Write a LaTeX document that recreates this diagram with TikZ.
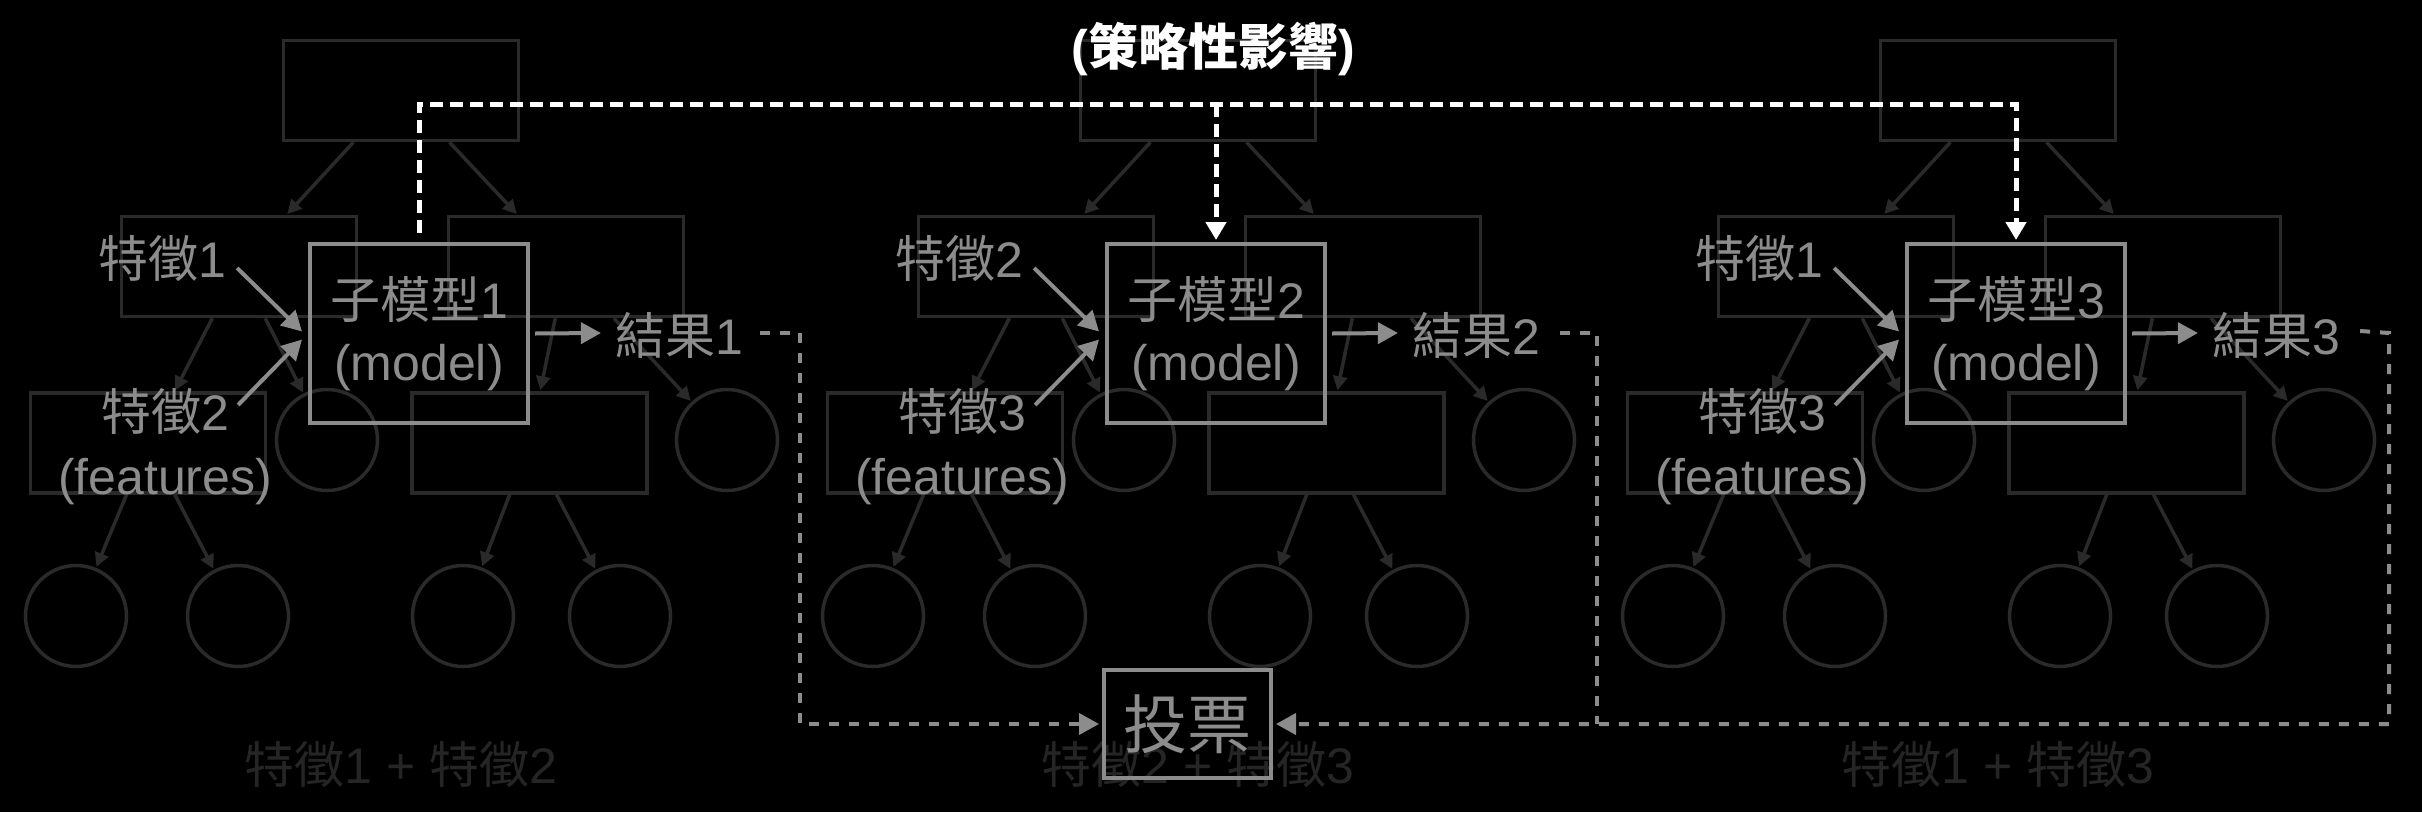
\documentclass[tikz,border=0pt]{standalone}
\usepackage{fontspec}
\setmainfont{Liberation Sans}
\newfontfamily\cjkfont{Noto Sans CJK TC}
\newcommand\zh[1]{{\cjkfont #1}}
\usetikzlibrary{arrows.meta,calc}
\definecolor{fg}{HTML}{8C8C8C}
\definecolor{bgline}{HTML}{2A2A2A}
\definecolor{bgtext}{HTML}{252525}
\begin{document}
\begin{tikzpicture}[x=1pt,y=-1pt,
  bgrect/.style={draw=bgline,line width=3.5pt,minimum width=235pt,minimum height=100pt,inner sep=0pt},
  bgcirc/.style={draw=bgline,line width=3.5pt,circle,minimum size=101pt,inner sep=0pt},
  bgarrow/.style={draw=bgline,line width=3.5pt,-{Triangle[length=14pt,width=14pt]},shorten >=1pt},
  bglabel/.style={text=bgtext,font=\fontsize{50}{60}\selectfont,inner sep=0pt},
  txt/.style={text=fg,font=\fontsize{50}{60}\selectfont,inner sep=0pt},
  modelbox/.style={draw=fg,line width=4pt,minimum width=218pt,minimum height=179pt,text=fg,align=center,font=\fontsize{50}{62}\selectfont,inner sep=0pt},
  votebox/.style={draw=fg,line width=4pt,minimum width=167pt,minimum height=108pt,text=fg,font=\fontsize{64}{70}\selectfont,inner sep=0pt},
  fgarrow/.style={draw=fg,line width=4pt,-{Triangle[length=20pt,width=21pt]}},
  gdash/.style={draw=fg,line width=4pt,dash pattern=on 10pt off 10pt},
  wdash/.style={draw=white,line width=5pt,dash pattern=on 13pt off 7pt},
  ghead/.style={-{Triangle[length=20pt,width=21pt]},shorten >=3pt},
  whead/.style={-{Triangle[length=18pt,width=20pt]},shorten >=2pt},
]
\fill[black] (0,0) rectangle (2422,812);
\useasboundingbox (0,0) rectangle (2422,812);

\foreach \i/\dx/\fa/\fb/\cx in {1/0/1/2/800, 2/797/2/3/800, 3/1597/1/3/792}{
  \begin{scope}[shift={(\dx,0)}]
    % background decision tree
    \node[bgrect] (tt\i) at (401,90.5) {};
    \node[bgrect] (tl\i) at (239,266.5) {};
    \node[bgrect] (tr\i) at (566,266.5) {};
    \node[bgrect] (tll\i) at (148,443) {};
    \node[bgcirc] (tlc\i) at (327,440) {};
    \node[bgrect] (trl\i) at (529.5,443) {};
    \node[bgcirc] (trc\i) at (727,440) {};
    \node[bgcirc] (ca\i) at (76,616) {};
    \node[bgcirc] (cb\i) at (238,616) {};
    \node[bgcirc] (cc\i) at (463,616) {};
    \node[bgcirc] (cd\i) at (620,616) {};
    \draw[bgarrow] (tt\i) -- (tl\i);
    \draw[bgarrow] (tt\i) -- (tr\i);
    \draw[bgarrow] (tl\i) -- (tll\i);
    \draw[bgarrow] (tl\i) -- (tlc\i);
    \draw[bgarrow] (tr\i) -- (trl\i);
    \draw[bgarrow] (tr\i) -- (trc\i);
    \draw[bgarrow] (tll\i) -- (ca\i);
    \draw[bgarrow] (tll\i) -- (cb\i);
    \draw[bgarrow] (trl\i) -- (cc\i);
    \draw[bgarrow] (trl\i) -- (cd\i);
    \node[bglabel] (bl\i) at (401,765) {\zh{特徵}\fa\ + \zh{特徵}\fb};
    % foreground
    \node[modelbox] (m\i) at (419,333.5) {\zh{子模型}\i\\(model)};
    \node[txt] (fa\i) at (162,259) {\zh{特徵}\fa};
    \node[txt] (fb\i) at (165,412) {\zh{特徵}\fb};
    \node[txt] (fe\i) at (165,482) {(features)};
    \node[txt] (res\i) at (679,335) {\zh{結果}\i};
    \coordinate (c\i) at (\cx,333);
    \draw[fgarrow] ($(fa\i.east)+(11,9)$) -- ($(m\i.west)+(-6,-2)$);
    \draw[fgarrow] ($(fb\i.east)+(9,-7)$) -- ($(m\i.west)+(-6,6)$);
    \draw[fgarrow] ($(m\i.east)+(5,0)$) -- ($(res\i.west)+(-14,-2)$);
  \end{scope}
}

\node[votebox] (vote) at (1187.5,724) {\zh{投票}};

\draw[gdash,ghead] ($(res1.east)+(17,-2)$) -- (c1) |- (vote.west);
\draw[gdash] ($(res2.east)+(20,-2)$) -- (c2) -- (c2 |- vote.west);
\draw[gdash,ghead] ($(res3.east)+(20,-4)$) -- (c3) |- (vote.east);

\node[text=white,font=\bfseries\fontsize{50}{60}\selectfont,inner sep=0pt] (title) at (1213,49) {(\zh{策略性影響})};

\coordinate (topy) at (0,104);
\draw[wdash,whead] ($(m1.north)+(0,-9)$) -- (m1.north |- topy) -- (m3.north |- topy) -- (m3.north);
\draw[wdash,whead] (m2.north |- topy) -- (m2.north);
\end{tikzpicture}
\end{document}
